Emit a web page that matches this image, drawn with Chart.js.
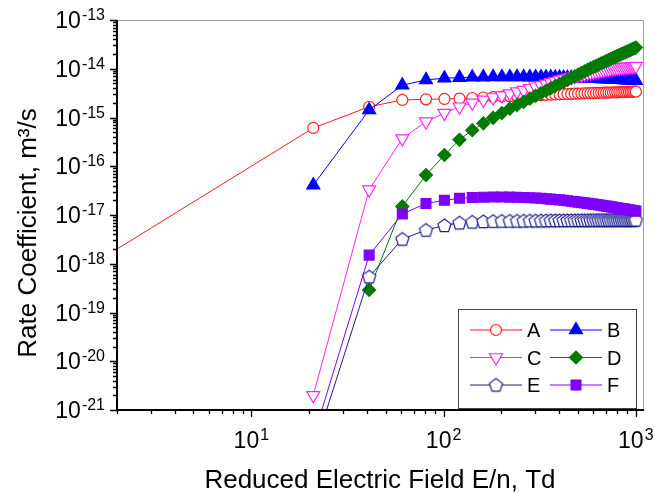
<!DOCTYPE html>
<html>
<head>
<meta charset="utf-8">
<script src="https://cdn.jsdelivr.net/npm/chart.js"></script>
<style>
  html, body { margin: 0; padding: 0; background: #fff; }
  #wrap { width: 655px; height: 494px; }
</style>
</head>
<body>
<div id="wrap"><canvas id="rates" width="655" height="494"></canvas></div>
<script>
// Reduced field E/n in Td. The first entry (1 Td) only carries the left tail of curve A.
const fieldTd = [
    1, 21, 41, 61, 81,
    101, 121, 141, 161, 181,
    201, 221, 241, 261, 281,
    301, 321, 341, 361, 381,
    401, 421, 441, 461, 481,
    501, 521, 541, 561, 581,
    601, 621, 641, 661, 681,
    701, 721, 741, 761, 781,
    801, 821, 841, 861, 881,
    901, 921, 941, 961, 981,
    1001
];

// rate coefficients, m^3/s
const rateA = [
    3.7e-19, 6.1e-16, 1.66e-15, 2.29e-15, 2.36e-15,
    2.40e-15, 2.45e-15, 2.51e-15, 2.57e-15, 2.63e-15,
    2.69e-15, 2.72e-15, 2.75e-15, 2.79e-15, 2.82e-15,
    2.85e-15, 2.88e-15, 2.92e-15, 2.95e-15, 2.97e-15,
    2.99e-15, 3.01e-15, 3.03e-15, 3.05e-15, 3.08e-15,
    3.09e-15, 3.11e-15, 3.13e-15, 3.14e-15, 3.16e-15,
    3.17e-15, 3.19e-15, 3.20e-15, 3.22e-15, 3.23e-15,
    3.24e-15, 3.25e-15, 3.26e-15, 3.27e-15, 3.28e-15,
    3.29e-15, 3.30e-15, 3.31e-15, 3.32e-15, 3.33e-15,
    3.34e-15, 3.35e-15, 3.36e-15, 3.37e-15, 3.38e-15,
    3.39e-15
];
const rateB = [
    null, 4.1e-17, 1.43e-15, 4.6e-15, 5.9e-15,
    6.4e-15, 6.6e-15, 6.7e-15, 6.75e-15, 6.8e-15,
    6.8e-15, 6.8e-15, 6.8e-15, 6.78e-15, 6.76e-15,
    6.74e-15, 6.72e-15, 6.7e-15, 6.67e-15, 6.64e-15,
    6.61e-15, 6.58e-15, 6.55e-15, 6.52e-15, 6.49e-15,
    6.46e-15, 6.43e-15, 6.4e-15, 6.37e-15, 6.34e-15,
    6.31e-15, 6.28e-15, 6.25e-15, 6.22e-15, 6.19e-15,
    6.16e-15, 6.13e-15, 6.1e-15, 6.07e-15, 6.04e-15,
    6.01e-15, 5.98e-15, 5.95e-15, 5.92e-15, 5.89e-15,
    5.86e-15, 5.83e-15, 5.8e-15, 5.77e-15, 5.74e-15,
    5.71e-15
];
const rateC = [
    null, 2.0e-21, 3.3e-17, 3.7e-16, 8.2e-16,
    1.23e-15, 1.66e-15, 2.0e-15, 2.29e-15, 2.57e-15,
    2.82e-15, 3.09e-15, 3.39e-15, 3.63e-15, 3.98e-15,
    4.27e-15, 4.57e-15, 4.9e-15, 5.25e-15, 5.6e-15,
    5.9e-15, 6.17e-15, 6.46e-15, 6.76e-15, 7.0e-15,
    7.24e-15, 7.5e-15, 7.76e-15, 8.04e-15, 8.3e-15,
    8.5e-15, 8.7e-15, 8.9e-15, 9.1e-15, 9.3e-15,
    9.55e-15, 9.8e-15, 1.0e-14, 1.01e-14, 1.02e-14,
    1.035e-14, 1.05e-14, 1.06e-14, 1.07e-14, 1.08e-14,
    1.09e-14, 1.10e-14, 1.11e-14, 1.12e-14, 1.125e-14,
    1.13e-14
];
const rateD = [
    null, null, 2.9e-19, 1.5e-17, 6.6e-17,
    1.7e-16, 3.5e-16, 5.5e-16, 7.6e-16, 9.8e-16,
    1.23e-15, 1.51e-15, 1.80e-15, 2.10e-15, 2.43e-15,
    2.77e-15, 3.16e-15, 3.55e-15, 3.98e-15, 4.42e-15,
    4.88e-15, 5.37e-15, 5.89e-15, 6.46e-15, 7.0e-15,
    7.6e-15, 8.2e-15, 8.83e-15, 9.48e-15, 1.014e-14,
    1.08e-14, 1.15e-14, 1.22e-14, 1.29e-14, 1.36e-14,
    1.44e-14, 1.51e-14, 1.59e-14, 1.67e-14, 1.75e-14,
    1.83e-14, 1.91e-14, 2.0e-14, 2.08e-14, 2.17e-14,
    2.26e-14, 2.34e-14, 2.44e-14, 2.54e-14, 2.63e-14,
    2.72e-14
];
const rateE = [
    null, 1.4e-22, 5.4e-19, 3.2e-18, 4.9e-18,
    6.1e-18, 6.9e-18, 7.2e-18, 7.35e-18, 7.45e-18,
    7.5e-18, 7.52e-18, 7.55e-18, 7.57e-18, 7.6e-18,
    7.62e-18, 7.64e-18, 7.66e-18, 7.68e-18, 7.7e-18,
    7.71e-18, 7.72e-18, 7.73e-18, 7.74e-18, 7.75e-18,
    7.76e-18, 7.77e-18, 7.78e-18, 7.79e-18, 7.8e-18,
    7.81e-18, 7.82e-18, 7.82e-18, 7.83e-18, 7.84e-18,
    7.84e-18, 7.85e-18, 7.85e-18, 7.86e-18, 7.86e-18,
    7.87e-18, 7.87e-18, 7.88e-18, 7.88e-18, 7.89e-18,
    7.89e-18, 7.9e-18, 7.9e-18, 7.9e-18, 7.91e-18,
    7.91e-18
];
const rateF = [
    null, 2.7e-22, 1.5e-18, 1.05e-17, 1.72e-17,
    2.0e-17, 2.2e-17, 2.28e-17, 2.32e-17, 2.34e-17,
    2.34e-17, 2.33e-17, 2.31e-17, 2.29e-17, 2.26e-17,
    2.23e-17, 2.2e-17, 2.16e-17, 2.12e-17, 2.08e-17,
    2.04e-17, 2.0e-17, 1.96e-17, 1.92e-17, 1.88e-17,
    1.84e-17, 1.8e-17, 1.77e-17, 1.73e-17, 1.7e-17,
    1.67e-17, 1.64e-17, 1.61e-17, 1.58e-17, 1.55e-17,
    1.52e-17, 1.5e-17, 1.47e-17, 1.45e-17, 1.42e-17,
    1.4e-17, 1.38e-17, 1.36e-17, 1.34e-17, 1.32e-17,
    1.3e-17, 1.28e-17, 1.26e-17, 1.24e-17, 1.22e-17,
    1.2e-17
];

// axis decades that get a "10^n" label
const yTickExp = [-21, -20, -19, -18, -17, -16, -15, -14, -13];
const xTickExp = [1, 2, 3];
const minorSteps = [2, 3, 4, 5, 6, 7, 8, 9];

const FONT = '"Liberation Sans", Arial, sans-serif';

// pentagon marker for series E (Chart.js has no pentagon style)
const NAVY = '#1c1c8c';
const pentagon = (() => {
    const c = document.createElement('canvas');
    c.width = 17; c.height = 17;
    const g = c.getContext('2d');
    g.beginPath();
    for (let k = 0; k < 5; k++) {
        const ang = -Math.PI / 2 + k * 2 * Math.PI / 5;
        const px = 8.5 + 6.9 * Math.cos(ang), py = 9 + 6.9 * Math.sin(ang);
        k ? g.lineTo(px, py) : g.moveTo(px, py);
    }
    g.closePath();
    g.fillStyle = '#fff'; g.fill();
    g.strokeStyle = NAVY; g.lineWidth = 1.2; g.stroke();
    return c;
})();

function series(label, values, color, order, marker) {
    return Object.assign({
        label,
        order,
        data: fieldTd.map((x, i) => ({ x, y: values[i] })),
        borderColor: color,
        backgroundColor: color,
        pointBorderColor: color,
        pointBackgroundColor: color,
        borderWidth: 1,
        pointBorderWidth: 1.2,
        tension: 0
    }, marker);
}

const datasets = [
    series('A', rateA, '#ff1a1a', 6, { pointStyle: 'circle', pointRadius: 5.5, pointBackgroundColor: '#fff' }),
    series('B', rateB, '#0000ff', 5, { pointStyle: 'triangle', pointRadius: 7.5 }),
    series('C', rateC, '#ff22ff', 4, { pointStyle: 'triangle', pointRotation: 180, pointRadius: 7.5, pointBackgroundColor: '#fff' }),
    series('D', rateD, '#007a00', 3, { pointStyle: 'rectRot', pointRadius: 6.5 }),
    series('E', rateE, NAVY, 2, { pointStyle: pentagon, pointRadius: 7 }),
    series('F', rateF, '#7f00ff', 1, { pointStyle: 'rect', pointRadius: 7 })
];

// "10" with a raised exponent, anchored by its right edge or centre
function powerLabel(ctx, exp, px, py, anchor) {
    ctx.font = '23px ' + FONT;
    const bw = ctx.measureText('10').width;
    ctx.font = '16px ' + FONT;
    const ew = ctx.measureText(String(exp)).width;
    const total = bw + 1 + ew;
    const left = anchor === 'right' ? px - total : px - total / 2;
    ctx.textAlign = 'left';
    ctx.textBaseline = 'alphabetic';
    ctx.font = '23px ' + FONT;
    ctx.fillText('10', left, py + 8);
    ctx.font = '16px ' + FONT;
    ctx.fillText(String(exp), left + bw + 1, py);
}

const frame = {
    id: 'frame',
    afterDraw(chart) {
        const { ctx, chartArea: a, scales: { x, y } } = chart;
        ctx.save();

        // light box on top and right
        ctx.strokeStyle = '#a0a0a0';
        ctx.lineWidth = 1;
        ctx.beginPath();
        ctx.moveTo(a.left, a.top + 0.5);
        ctx.lineTo(a.right + 0.5, a.top + 0.5);
        ctx.lineTo(a.right + 0.5, a.bottom);
        ctx.stroke();

        // black axes
        ctx.strokeStyle = '#000';
        ctx.lineWidth = 2;
        ctx.beginPath();
        ctx.moveTo(a.left, a.top);
        ctx.lineTo(a.left, a.bottom);
        ctx.lineTo(a.right + 1, a.bottom);
        ctx.stroke();

        // y ticks (outward, left)
        ctx.lineWidth = 1.3;
        ctx.beginPath();
        yTickExp.forEach((e, i) => {
            const py = Math.round(y.getPixelForValue(Math.pow(10, e))) + 0.5;
            ctx.moveTo(a.left, py); ctx.lineTo(a.left - 7, py);
            if (i < yTickExp.length - 1) {
                minorSteps.forEach(m => {
                    const my = Math.round(y.getPixelForValue(m * Math.pow(10, e))) + 0.5;
                    ctx.moveTo(a.left, my); ctx.lineTo(a.left - 4, my);
                });
            }
        });
        // x ticks (outward, down)
        [0].concat(xTickExp).forEach(e => {
            const major = Math.pow(10, e);
            if (major >= x.min && major <= x.max) {
                const px = Math.round(x.getPixelForValue(major)) + 0.5;
                ctx.moveTo(px, a.bottom); ctx.lineTo(px, a.bottom + 7);
            }
            minorSteps.forEach(m => {
                const v = m * major;
                if (v < x.min || v > x.max) return;
                const px = Math.round(x.getPixelForValue(v)) + 0.5;
                ctx.moveTo(px, a.bottom); ctx.lineTo(px, a.bottom + 4);
            });
        });
        ctx.stroke();

        // tick labels
        ctx.fillStyle = '#000';
        yTickExp.forEach(e => powerLabel(ctx, e, a.left - 12, y.getPixelForValue(Math.pow(10, e)), 'right'));
        xTickExp.forEach(e => powerLabel(ctx, e, x.getPixelForValue(Math.pow(10, e)), a.bottom + 30, 'center'));

        // axis titles
        ctx.font = '26px ' + FONT;
        ctx.textAlign = 'center';
        ctx.textBaseline = 'alphabetic';
        ctx.fillText('Reduced Electric Field E/n, Td', (a.left + a.right) / 2, 488);
        ctx.save();
        ctx.translate(36, 233);
        ctx.rotate(-Math.PI / 2);
        ctx.fillText('Rate Coefficient, m³/s', 0, 0);
        ctx.restore();

        // legend box, two columns
        const box = { left: 458, top: 309, right: 636, bottom: 408 };
        ctx.fillStyle = '#fff';
        ctx.fillRect(box.left, box.top, box.right - box.left, box.bottom - box.top);
        ctx.strokeStyle = '#444';
        ctx.lineWidth = 1;
        ctx.strokeRect(box.left + 0.5, box.top + 0.5, box.right - box.left, box.bottom - box.top);

        const drawPoint = Chart.helpers && Chart.helpers.drawPoint;
        chart.data.datasets.forEach((ds, i) => {
            const col = i % 2, row = Math.floor(i / 2);
            const cy = 330 + row * 27.5;
            const x0 = 470 + col * 80;
            ctx.strokeStyle = ds.borderColor;
            ctx.lineWidth = 1;
            ctx.beginPath();
            ctx.moveTo(x0, cy); ctx.lineTo(x0 + 52, cy);
            ctx.stroke();
            if (drawPoint) {
                ctx.fillStyle = ds.pointBackgroundColor;
                ctx.strokeStyle = ds.pointBorderColor;
                ctx.lineWidth = ds.pointBorderWidth;
                drawPoint(ctx, {
                    pointStyle: ds.pointStyle,
                    rotation: ds.pointRotation || 0,
                    radius: ds.pointRadius,
                    borderWidth: ds.pointBorderWidth
                }, x0 + 26, cy);
            }
            ctx.fillStyle = '#000';
            ctx.font = '20px ' + FONT;
            ctx.textAlign = 'left';
            ctx.fillText(ds.label, x0 + 57, cy + 7);
        });

        ctx.restore();
    }
};

new Chart(document.getElementById('rates'), {
    type: 'line',
    data: { datasets },
    options: {
        responsive: false,
        animation: false,
        events: [],
        layout: { padding: { left: 117, top: 20, right: 12, bottom: 84 } },
        plugins: { legend: { display: false }, tooltip: { enabled: false } },
        scales: {
            x: { type: 'logarithmic', min: 2, max: 1090, display: false },
            y: { type: 'logarithmic', min: 1e-21, max: 1e-13, display: false }
        }
    },
    plugins: [frame]
});
</script>
</body>
</html>
